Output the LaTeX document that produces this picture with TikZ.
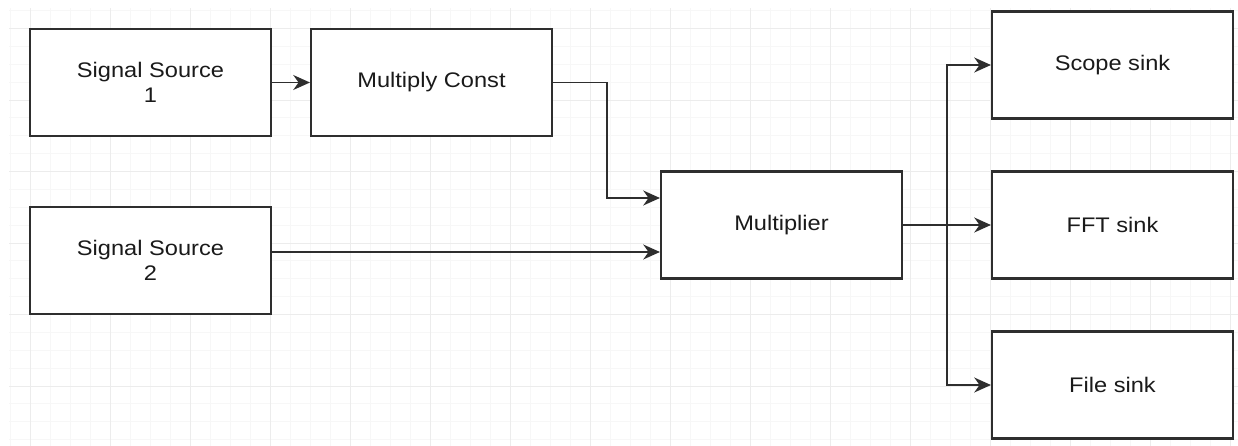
\documentclass[tikz,border=0pt]{standalone}
\usepackage{fontspec}
\setmainfont{Liberation Sans}[FakeStretch=1.12]
\usetikzlibrary{arrows.meta}
\definecolor{boxline}{HTML}{2E2E2E}
\definecolor{labeltext}{HTML}{1A1A1A}
\definecolor{gridminor}{HTML}{F7F7F7}
\definecolor{gridmajor}{HTML}{ECECEC}

\begin{document}
\begin{tikzpicture}[x=0.02cm, y=-0.02cm,
    block/.style={draw=boxline, line width=1.2pt, fill=white, minimum width=4.82cm, minimum height=2.14cm,
      align=center, text=labeltext, font=\fontsize{12}{14.2}\selectfont},
    link/.style={draw=boxline, line width=1pt, -{Stealth[length=9.5pt, width=8.5pt, inset=3pt]}}]
    \useasboundingbox (0,0) rectangle (1238,446);

    % グリッド
    \foreach \x in {10,30,...,1230} \draw[gridminor, line width=0.5pt] (\x,8) -- (\x,446);
    \foreach \i in {0,...,24} \draw[gridminor, line width=0.5pt] (9,{10.625+17.875*\i}) -- (1238,{10.625+17.875*\i});
    \foreach \x in {30,110,...,1230} \draw[gridmajor, line width=0.5pt] (\x,8) -- (\x,446);
    \foreach \i in {0,...,5} \draw[gridmajor, line width=0.5pt] (9,{28.5+71.5*\i}) -- (1238,{28.5+71.5*\i});

    \node[block] (src1) at (150.5, 82.5) {Signal Source\\1};
    \node[block] (mconst) at (431.5, 82.5) {Multiply Const};
    \node[block] (src2) at (150.5, 260.5) {Signal Source\\2};
    \node[block] (mult) at (781.5, 225) {Multiplier};
    \node[block] (scope) at (1112.5, 65) {Scope sink};
    \node[block] (fft) at (1112.5, 225) {FFT sink};
    \node[block] (file) at (1112.5, 385) {File sink};

    % 矢印を引く
    \coordinate (bend) at (607, 198);
    \coordinate (lvl2) at (0, 252);
    \coordinate (split) at (947, 225);
    \draw[link] (src1) -- (mconst);
    \draw[link] (mconst.east) -| (bend) -- (bend -| mult.west);
    \draw[link] (src2.east |- lvl2) -- (mult.west |- lvl2);
    \draw[link] (mult) -- (fft);
    \draw[link] (split) |- (scope.west);
    \draw[link] (split) |- (file.west);
\end{tikzpicture}
\end{document}
